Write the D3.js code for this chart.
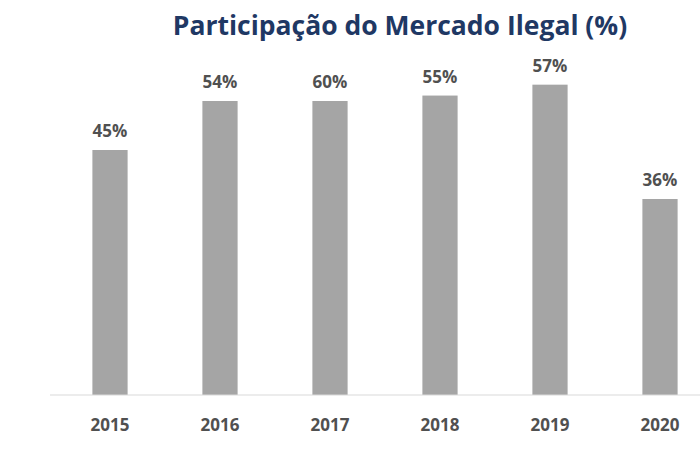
<!DOCTYPE html>
<html><head><meta charset="utf-8">
<script src="https://cdn.jsdelivr.net/npm/d3@7"></script>
<style>body{margin:0;background:#fff}</style></head>
<body><svg id="c" width="700" height="450"></svg>
<script>
const categories = ["2015","2016","2017","2018","2019","2020"];
const values = [45, 54, 54, 55, 57, 36];
const labels = ["45%","54%","60%","55%","57%","36%"];
const title = "Participação do Mercado Ilegal (%)";

const svg = d3.select("#c");
const baseY = 395;
const x = d3.scaleBand().domain(categories).range([55, 715]).paddingInner(0.68).paddingOuter(0.34);
const y = d3.scaleLinear().domain([0, 45]).range([baseY, 150]);

svg.append("text").attr("x", 400).attr("y", 35).attr("text-anchor", "middle")
  .attr("font-family", "Open Sans, sans-serif").attr("font-weight", "bold")
  .attr("font-size", 26.5).attr("fill", "#1f3864").text(title);

svg.selectAll("rect.bar").data(values).join("rect").attr("class","bar")
  .attr("x", (d,i) => x(categories[i])).attr("width", x.bandwidth())
  .attr("y", d => y(d)).attr("height", d => baseY - y(d)).attr("fill", "#a5a5a5");

svg.selectAll("text.lbl").data(values).join("text").attr("class","lbl")
  .attr("x", (d,i) => x(categories[i]) + x.bandwidth()/2).attr("y", d => y(d) - 13)
  .attr("text-anchor","middle").attr("font-family","Open Sans, sans-serif")
  .attr("font-weight","bold").attr("font-size",17).attr("fill","#505050")
  .text((d,i) => labels[i]);

const ax = svg.append("g").attr("transform", `translate(0,${baseY})`)
  .call(d3.axisBottom(x).tickSize(0).tickPadding(24));
ax.select(".domain").attr("stroke","#d9d9d9").attr("d","M50,0H700");
ax.selectAll("text").attr("font-family","Open Sans, sans-serif").attr("font-weight","bold")
  .attr("font-size",17).attr("fill","#505050");
</script></body></html>
